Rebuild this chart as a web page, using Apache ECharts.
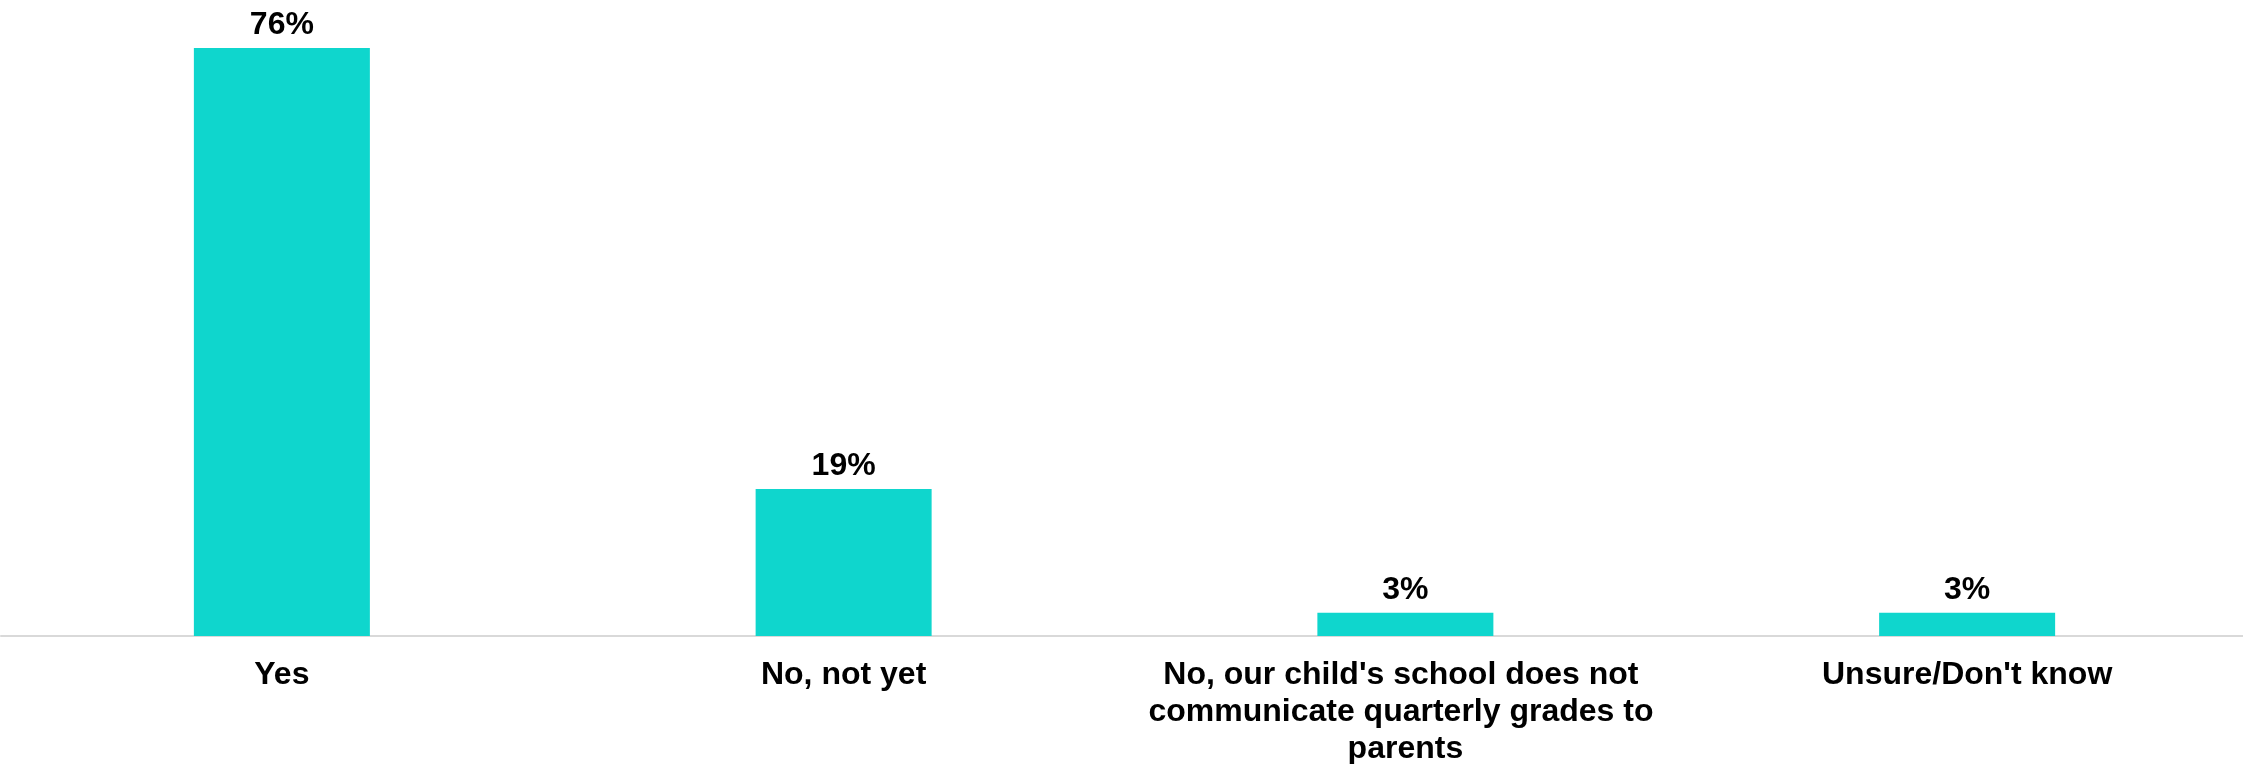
<!DOCTYPE html>
<html>
<head>
<meta charset="utf-8">
<script src="https://cdn.jsdelivr.net/npm/echarts@6/dist/echarts.min.js"></script>
<style>
html,body{margin:0;padding:0;background:#fff;}
#chart{width:2243px;height:764px;}
</style>
</head>
<body>
<div id="chart"></div>
<script>
const categories = ["Yes", "No, not yet", "No, our child's school does not communicate quarterly grades to parents", "Unsure/Don't know"];
const values = [76, 19, 3, 3];

const chart = echarts.init(document.getElementById('chart'), null, {renderer: 'canvas'});
chart.setOption({
  animation: false,
  backgroundColor: '#ffffff',
  grid: {left: 1, width: 2247, top: 48, bottom: 128, containLabel: false, outerBoundsMode: 'none'},
  xAxis: {
    type: 'category',
    data: categories,
    axisLine: {show: true, lineStyle: {color: '#d9d9d9', width: 2}},
    axisTick: {show: false},
    axisLabel: {
      interval: 0,
      color: '#000',
      fontFamily: 'Liberation Sans, Arial, sans-serif',
      fontWeight: 'bold',
      fontSize: 32,
      lineHeight: 37,
      margin: 21,
      width: 520,
      overflow: 'break',
      align: 'center'
    }
  },
  yAxis: {
    type: 'value',
    min: 0,
    max: 76,
    show: false,
    splitLine: {show: false}
  },
  series: [{
    type: 'bar',
    data: values,
    barWidth: 176,
    itemStyle: {color: '#0fd6cd'},
    label: {
      show: true,
      position: 'top',
      distance: 7,
      formatter: '{c}%',
      color: '#000',
      fontFamily: 'Liberation Sans, Arial, sans-serif',
      fontWeight: 'bold',
      fontSize: 32
    }
  }]
});
</script>
</body>
</html>
